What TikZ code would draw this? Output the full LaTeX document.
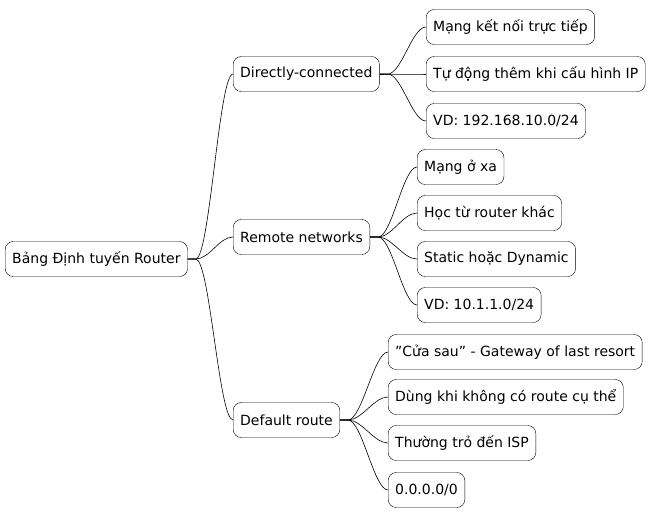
\documentclass[tikz,border=0pt]{standalone}
\usepackage{fontspec}
\setmainfont{DejaVu Sans}
\begin{document}
\begin{tikzpicture}[x=1pt,y=-1pt,
  box/.style={draw,rounded corners=8pt,fill=white,anchor=west,minimum height=35pt,inner xsep=7pt,font=\fontsize{14}{16}\selectfont},
  link/.style={draw,line width=0.6pt}]
\useasboundingbox (0,0) rectangle (657,520);
\node[box] (r) at (5,259) {Bảng Định tuyến Router};
\node[box] (a) at (233,74) {Directly-connected};
\node[box] (b) at (233,237) {Remote networks};
\node[box] (c) at (233,420) {Default route};
\node[box] (a1) at (426,27) {Mạng kết nối trực tiếp};
\node[box] (a2) at (426,74) {Tự động thêm khi cấu hình IP};
\node[box] (a3) at (426,121) {VD: 192.168.10.0/24};
\node[box] (b1) at (417,167) {Mạng ở xa};
\node[box] (b2) at (417,213) {Học từ router khác};
\node[box] (b3) at (417,259) {Static hoặc Dynamic};
\node[box] (b4) at (417,305) {VD: 10.1.1.0/24};
\node[box] (c1) at (388,352) {"Cửa sau" - Gateway of last resort};
\node[box] (c2) at (388,397) {Dùng khi không có route cụ thể};
\node[box] (c3) at (388,443) {Thường trỏ đến ISP};
\node[box] (c4) at (388,490) {0.0.0.0/0};
\foreach \p/\k in {r/a,r/b,r/c,a/a1,a/a2,a/a3,b/b1,b/b2,b/b3,b/b4,c/c1,c/c2,c/c3,c/c4}
  \draw[link] (\p.east) -- ([xshift=8pt]\p.east) .. controls ([xshift=22pt]\p.east) and ([xshift=-14pt]\k.west) .. (\k.west);
\end{tikzpicture}
\end{document}
